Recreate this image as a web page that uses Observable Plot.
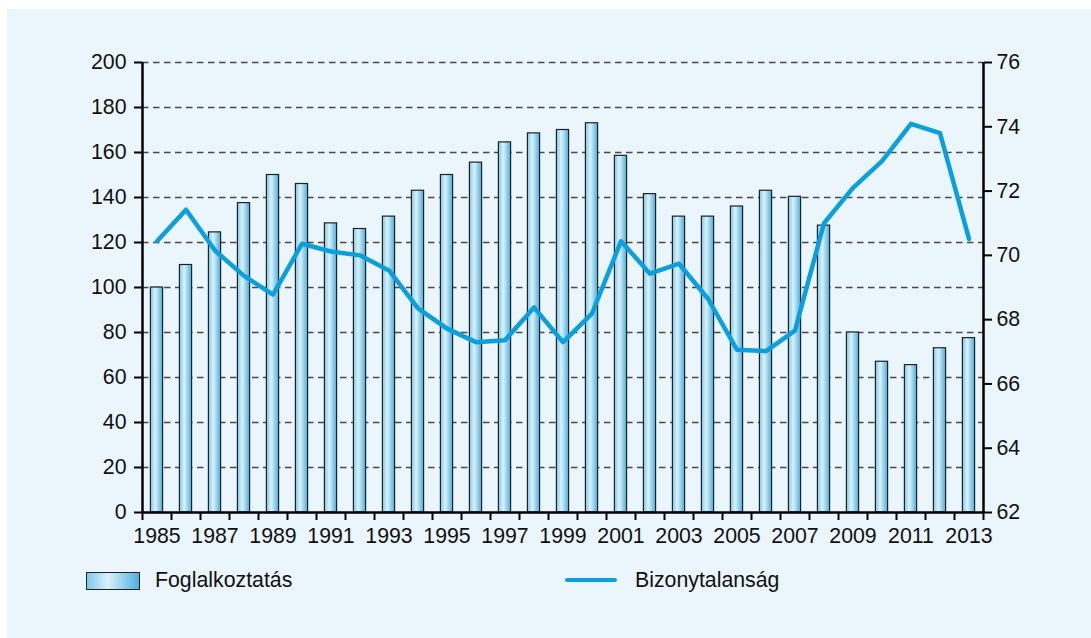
<!DOCTYPE html>
<html><head><meta charset="utf-8">
<script src="https://cdn.jsdelivr.net/npm/d3@7"></script>
<script src="https://cdn.jsdelivr.net/npm/@observablehq/plot@0.6"></script>
<style>
body{margin:0;background:#fff;font-family:"Liberation Sans",Arial,sans-serif;width:1091px;height:638px;overflow:hidden;position:relative;}
#panel{position:absolute;left:7px;top:9px;width:1084px;height:629px;background:#eaf5fc;}
#chart{position:absolute;left:0;top:0;}
.lg{position:absolute;font-size:21.3px;color:#111;line-height:21px;}
#sw1{position:absolute;left:86px;top:572px;width:52px;height:16px;border:1.3px solid #222;background:linear-gradient(to right,#7fc8ea 0%,#d9f1fc 40%,#4fb0dd 100%);}
#sw2{position:absolute;left:565px;top:578px;width:52px;height:4px;border-radius:2px;background:#0a9fdd;}
</style></head>
<body>
<div id="panel"></div>
<div id="chart"></div>
<div id="sw1"></div><div class="lg" style="left:155px;top:570px;">Foglalkoztatás</div>
<div id="sw2"></div><div class="lg" style="left:635px;top:570px;">Bizonytalanság</div>
<script>
const years = [1985,1986,1987,1988,1989,1990,1991,1992,1993,1994,1995,1996,1997,1998,1999,2000,2001,2002,2003,2004,2005,2006,2007,2008,2009,2010,2011,2012,2013];
const employment = [100,110,124.5,137.5,150,146,128.5,126,131.5,143,150,155.5,164.5,168.5,170,173,158.5,141.5,131.5,131.5,136,143,140.3,127.5,80,67,65.5,73,77.5];
const uncertainty = [70.44,71.42,70.15,69.36,68.78,70.36,70.12,70.0,69.53,68.35,67.72,67.3,67.36,68.38,67.3,68.19,70.44,69.43,69.74,68.65,67.06,67.02,67.66,71.0,72.1,72.93,74.09,73.8,70.51];
const leftTicks = [0,20,40,60,80,100,120,140,160,180,200];
const rightTicks = [62,64,66,68,70,72,74,76];
const xLabelYears = [1985,1987,1989,1991,1993,1995,1997,1999,2001,2003,2005,2007,2009,2011,2013];

const rMin = 62, rMax = 76, lMax = 200;
const toLeft = v => (v - rMin) / (rMax - rMin) * lMax;
const rows = years.map((y, i) => ({year: y, emp: employment[i], unc: uncertainty[i]}));
const bounds = years.map(y => y - 0.5).concat([years[years.length - 1] + 0.5]);
const halfW = 0.21;
const fs = 21.3;

const plot = Plot.plot({
  width: 1091, height: 560,
  marginLeft: 142, marginRight: 108, marginTop: 62, marginBottom: 48,
  style: {background: "transparent", fontFamily: "Liberation Sans, Arial, sans-serif", fontSize: fs + "px", color: "#111"},
  x: {type: "linear", domain: [years[0] - 0.5, years[years.length - 1] + 0.5]},
  y: {domain: [0, lMax]},
  marks: [
    Plot.gridY(leftTicks.filter(d => d > 0), {stroke: "#4a4a4a", strokeOpacity: 1, strokeWidth: 1.3, strokeDasharray: "6.5,4.5"}),
    Plot.rect(rows, {x1: d => d.year - halfW, x2: d => d.year + halfW, y1: 0, y2: "emp", fill: "url(#barGrad)", stroke: "#222", strokeWidth: 1.2}),
    Plot.line(rows, {x: "year", y: d => toLeft(d.unc), stroke: "#0a9fdd", strokeWidth: 4.5}),
    Plot.ruleX([bounds[0], bounds[bounds.length - 1]], {stroke: "#000", strokeWidth: 2.5}),
    Plot.ruleY([0], {stroke: "#000", strokeWidth: 2.5}),
    Plot.axisY(leftTicks, {anchor: "left", tickSize: 8, tickPadding: 8, strokeWidth: 2, stroke: "#000", label: null, fontSize: fs}),
    Plot.axisY(rightTicks.map(toLeft), {anchor: "right", tickSize: 8, tickPadding: 5, strokeWidth: 2, stroke: "#000", label: null, fontSize: fs,
      tickFormat: d => String(Math.round(d / lMax * (rMax - rMin) + rMin))}),
    Plot.axisX(bounds, {anchor: "bottom", tickSize: 8, strokeWidth: 2, stroke: "#000", tickFormat: () => "", label: null}),
    Plot.axisX(xLabelYears, {anchor: "bottom", tickSize: 0, tickPadding: 15, tickFormat: d => String(d), label: null, fontSize: fs})
  ]
});

d3.select(plot).insert("defs", ":first-child").html(
  '<linearGradient id="barGrad" x1="0" y1="0" x2="1" y2="0">' +
  '<stop offset="0%" stop-color="#7fc8ea"/><stop offset="40%" stop-color="#dcf2fc"/><stop offset="100%" stop-color="#4aaedc"/>' +
  '</linearGradient>');
document.getElementById("chart").appendChild(plot);
</script>
</body></html>
